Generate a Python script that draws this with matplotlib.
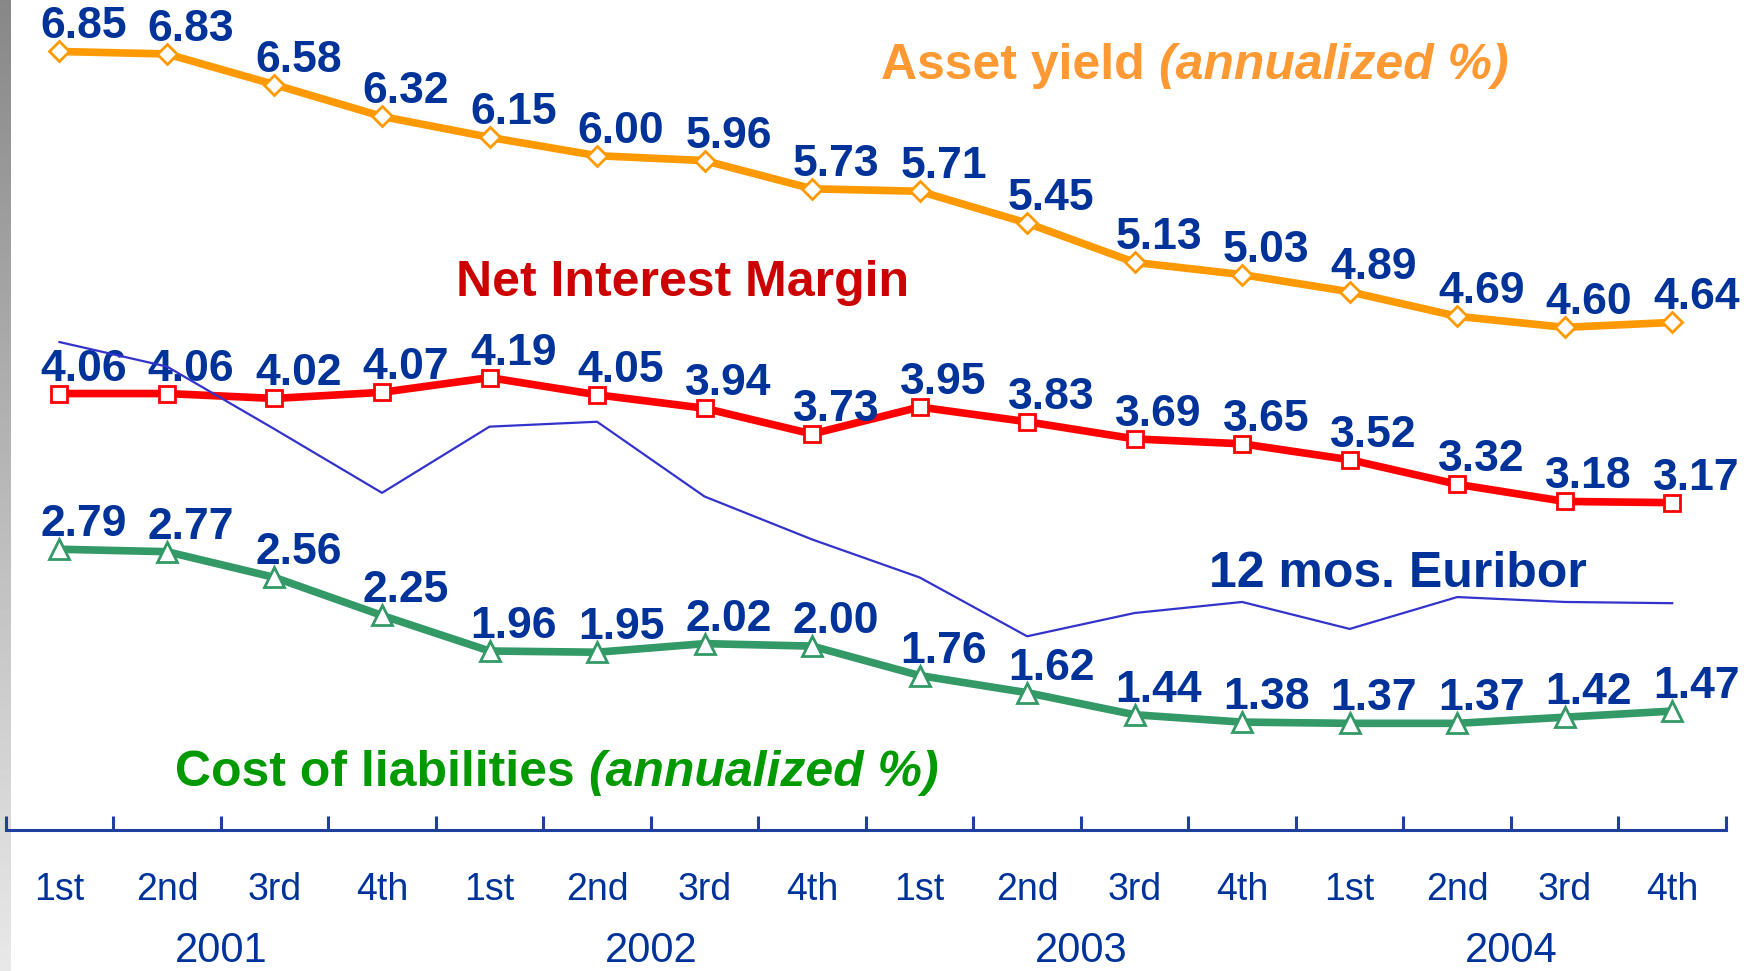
import matplotlib
matplotlib.use('Agg')
import matplotlib.pyplot as plt
import numpy as np

# ---------------- data ----------------
quarters = ['1st', '2nd', '3rd', '4th'] * 4
years = ['2001', '2002', '2003', '2004']
asset_yield = [6.85, 6.83, 6.58, 6.32, 6.15, 6.00, 5.96, 5.73, 5.71, 5.45, 5.13, 5.03, 4.89, 4.69, 4.60, 4.64]
net_interest_margin = [4.06, 4.06, 4.02, 4.07, 4.19, 4.05, 3.94, 3.73, 3.95, 3.83, 3.69, 3.65, 3.52, 3.32, 3.18, 3.17]
cost_of_liabilities = [2.79, 2.77, 2.56, 2.25, 1.96, 1.95, 2.02, 2.00, 1.76, 1.62, 1.44, 1.38, 1.37, 1.37, 1.42, 1.47]
euribor_12m = [4.48, 4.28, 3.77, 3.25, 3.79, 3.83, 3.22, 2.87, 2.56, 2.08, 2.27, 2.36, 2.14, 2.40, 2.36, 2.35]

# ---------------- style ----------------
plt.rcParams['font.family'] = ['Liberation Sans', 'DejaVu Sans']
W, H = 1762, 971
LABEL_BLUE = '#003399'
AXIS_BLUE = '#1f3f9f'

fig = plt.figure(figsize=(W / 100, H / 100), dpi=100)
fig.patch.set_facecolor('white')

# left gray gradient strip
gax = fig.add_axes([0, 0, 11 / W, 1], zorder=0)
grad = np.linspace(0.53, 0.91, 256).reshape(-1, 1)
gax.imshow(grad, cmap='gray', vmin=0, vmax=1, aspect='auto', extent=[0, 1, 0, 1], origin='upper')
gax.axis('off')

left_px, right_px, bottom_px = 5.7, 1726, 830
ax = fig.add_axes([left_px / W, 1 - bottom_px / H, (right_px - left_px) / W, bottom_px / H], zorder=1)
ax.patch.set_alpha(0)
x = np.arange(len(quarters))
ax.set_xlim(-0.5, len(quarters) - 0.5)
ax.set_ylim(0.5, 0.5 + bottom_px / 122.6)

for s in ['top', 'right', 'left']:
    ax.spines[s].set_visible(False)
ax.spines['bottom'].set_color(AXIS_BLUE)
ax.spines['bottom'].set_linewidth(2.2)
ax.set_yticks([])
ax.set_xticks(np.arange(-0.5, len(quarters), 1.0))
ax.set_xticklabels([])
ax.tick_params(axis='x', direction='in', length=10, width=2.2, color=AXIS_BLUE)

# lines
ax.plot(x, asset_yield, color='#ff9900', lw=5.5, marker='D', ms=10, mfc='white',
        mec='#ff9900', mew=2, zorder=3, clip_on=False)
ax.plot(x, net_interest_margin, color='#ff0000', lw=5.5, marker='s', ms=11, mfc='white',
        mec='#ff0000', mew=2, zorder=3, clip_on=False)
ax.plot(x, cost_of_liabilities, color='#339966', lw=5.5, marker='^', ms=14, mfc='white',
        mec='#339966', mew=2, zorder=3, clip_on=False)
ax.plot(x, euribor_12m, color='#3333cc', lw=1.6, zorder=6, clip_on=False)

# data labels
for series in (asset_yield, net_interest_margin, cost_of_liabilities):
    for xi, v in zip(x, series):
        ax.annotate(f'{v:.2f}', xy=(xi, v), xytext=(24, 13), textcoords='offset pixels',
                    ha='center', va='baseline', fontsize=32, fontweight='bold',
                    color=LABEL_BLUE, zorder=5, annotation_clip=False)

# quarter & year labels
xt = ax.get_xaxis_transform()
for xi, q in zip(x, quarters):
    ax.text(xi, (bottom_px - 900) / bottom_px, q, transform=xt, ha='center', va='baseline',
            fontsize=27, color=LABEL_BLUE)
for i, yr in enumerate(years):
    ax.text(4 * i + 1.5, (bottom_px - 962) / bottom_px, yr, transform=xt, ha='center',
            va='baseline', fontsize=30, color=LABEL_BLUE)

# series titles
def figxy(px, py):
    return px / W, 1 - py / H

t1 = fig.text(*figxy(881, 79), 'Asset yield', ha='left', va='baseline', fontsize=36,
              fontweight='bold', color='#ff9933')
ax.annotate('(annualized %)', xy=(1, 0), xycoords=t1, xytext=(14, 0), textcoords='offset pixels',
            ha='left', va='bottom', fontsize=36, fontweight='bold', fontstyle='italic',
            color='#ff9933', annotation_clip=False)

fig.text(*figxy(683, 296), 'Net Interest Margin', ha='center', va='baseline', fontsize=36,
         fontweight='bold', color='#cc0000')

fig.text(*figxy(1398, 587), '12 mos. Euribor', ha='center', va='baseline', fontsize=36,
         fontweight='bold', color='#003399')

t2 = fig.text(*figxy(175, 786), 'Cost of liabilities', ha='left', va='baseline', fontsize=36,
              fontweight='bold', color='#009900')
ax.annotate('(annualized %)', xy=(1, 0), xycoords=t2, xytext=(14, 0), textcoords='offset pixels',
            ha='left', va='bottom', fontsize=36, fontweight='bold', fontstyle='italic',
            color='#009900', annotation_clip=False)

fig.savefig('out.png', dpi=100, facecolor='white')
